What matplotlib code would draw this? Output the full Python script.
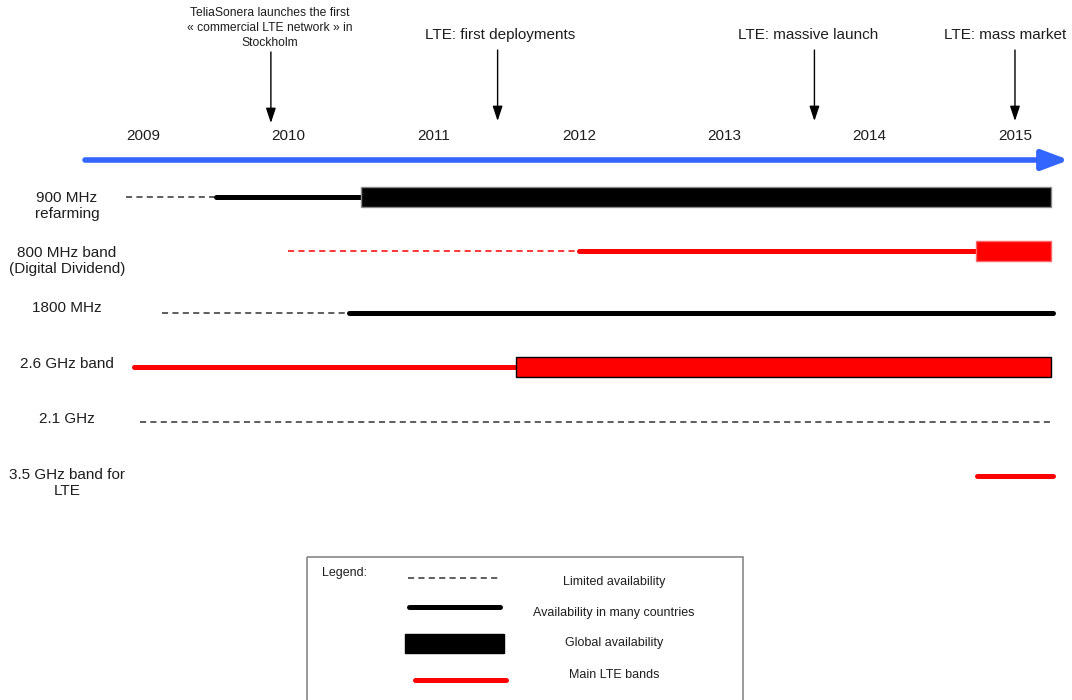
import matplotlib.pyplot as plt
from matplotlib.patches import Rectangle

plt.rcParams['font.family'] = ['Liberation Sans', 'DejaVu Sans']

# timeline data (x in years)
years = [2009, 2010, 2011, 2012, 2013, 2014, 2015]
event_labels = ['TeliaSonera launches the first\n\u00ab commercial LTE network \u00bb in\nStockholm',
                'LTE: first deployments', 'LTE: massive launch', 'LTE: mass market']
event_x = [2009.88, 2011.44, 2013.62, 2015.0]
event_text_x = [2009.87, 2011.455, 2013.58, 2014.93]

band_names = ['900 MHz\nrefarming', '800 MHz band\n(Digital Dividend)', '1800 MHz',
              '2.6 GHz band', '2.1 GHz', '3.5 GHz band for\nLTE']
# (start, end) of each availability phase, None when absent
limited = [(2008.88, 2009.5), (2010.0, 2012.0), (2009.13, 2010.42), None, (2008.98, 2015.24), None]
many = [(2009.5, 2010.5), (2012.0, 2014.73), (2010.42, 2015.26), (2008.94, 2011.57), None, (2014.74, 2015.26)]
glob = [(2010.5, 2015.25), (2014.73, 2015.25), None, (2011.57, 2015.25), None, None]
main_lte = [False, True, False, True, False, True]

legend_labels = ['Limited availability', 'Availability in many countries',
                 'Global availability', 'Main LTE bands']

# layout
PX_PER_YEAR = 145.33
X0_PX = 143
row_y = [197, 251, 313, 367, 422, 476]
label_y = [206, 261, 308, 364, 419, 483]
BAR_H = 20
BLUE = '#3366ff'
RED = '#ff0000'
TXT = '#1e1e1e'


def yr(px):
    return years[0] + (px - X0_PX) / PX_PER_YEAR


fig = plt.figure(figsize=(10.72, 7), dpi=100)
ax = fig.add_axes([0, 0, 1, 1])
ax.set_xlim(yr(0), yr(1072))
ax.set_ylim(700, 0)
ax.axis('off')

# years and time arrow
for y in years:
    ax.text(y, 136, str(y), ha='center', va='center', fontsize=11, color=TXT)
ax.annotate('', xy=(yr(1069), 160), xytext=(yr(85), 160),
            arrowprops=dict(arrowstyle='-|>,head_length=1.6,head_width=0.6',
                            lw=4, color=BLUE, mutation_scale=10, shrinkA=0, shrinkB=0,
                            capstyle='round'))

# milestones
for i, (lab, x, tx) in enumerate(zip(event_labels, event_x, event_text_x)):
    if i == 0:
        ax.text(tx, 28, lab, ha='center', va='center', fontsize=8.7, color=TXT,
                linespacing=1.35)
        y_top, y_bot = 52, 123
    else:
        ax.text(tx, 35, lab, ha='center', va='center', fontsize=11, color=TXT)
        y_top, y_bot = 50, 121
    ax.annotate('', xy=(x, y_bot), xytext=(x, y_top),
                arrowprops=dict(arrowstyle='-|>,head_length=0.9,head_width=0.3',
                                lw=1, color='black', shrinkA=0, shrinkB=0))

# bands
for i, name in enumerate(band_names):
    c = RED if main_lte[i] else 'black'
    y = row_y[i]
    ax.text(yr(67), label_y[i], name, ha='center', va='center', fontsize=11,
            color=TXT, linespacing=1.2)
    if limited[i]:
        ax.plot(limited[i], [y, y], color=c if main_lte[i] else '#333333', lw=1.1,
                linestyle=(0, (4, 2.8)))
    if many[i]:
        ax.plot(many[i], [y, y], color=c, lw=3.6, solid_capstyle='round')
    if glob[i]:
        s, e = glob[i]
        edge = 'black' if i == 3 else ('#888888' if c == 'black' else '#ff6666')
        ax.barh(y, e - s, left=s, height=BAR_H, color=c, edgecolor=edge, lw=1, zorder=3)

# legend box in pixel coordinates
lax = fig.add_axes([0, 0, 1, 1])
lax.set_xlim(0, 1072)
lax.set_ylim(700, 0)
lax.axis('off')
lax.patch.set_alpha(0)
lax.add_patch(Rectangle((307, 557), 436, 160, fill=False, edgecolor='#888888', lw=1.2))
lax.text(322, 573, 'Legend:', ha='left', va='center', fontsize=9, color=TXT)
lax.plot([408, 498], [578, 578], color='#333333', lw=1.1, linestyle=(0, (4, 2.8)))
lax.plot([409, 500], [607, 607], color='black', lw=3.6, solid_capstyle='round')
lax.add_patch(Rectangle((405, 634), 99, 19, color='black'))
lax.plot([415, 506], [680, 680], color=RED, lw=3.6, solid_capstyle='round')
for lab, ly in zip(legend_labels, [582, 613, 643, 675]):
    lax.text(614, ly, lab, ha='center', va='center', fontsize=9, color=TXT)

fig.savefig('out.png', dpi=100)
